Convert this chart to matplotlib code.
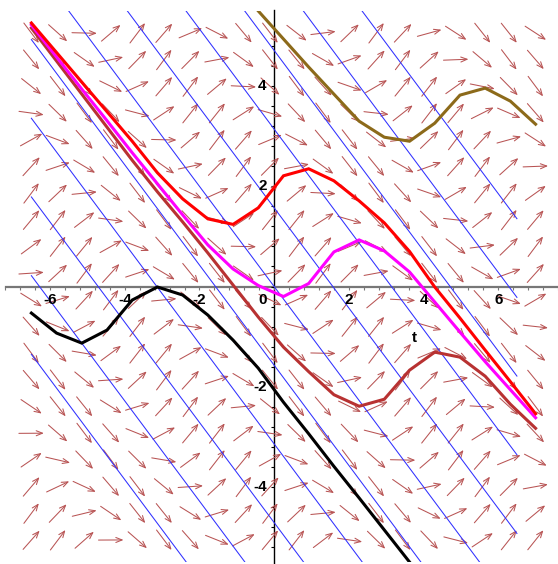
import numpy as np
import matplotlib
matplotlib.use("Agg")
import matplotlib.pyplot as plt
from matplotlib.patches import FancyArrowPatch, Rectangle

# direction field of  dy/dt = sin(t + y)  with solution curves (Maple DEplot look)

# time steps of the (coarse) numerical solutions
t_steps = [-6.5, -5.825, -5.15, -4.475, -3.8, -3.125, -2.45, -1.775, -1.1, -0.425,
           0.25, 0.925, 1.6, 2.275, 2.95, 3.625, 4.3, 4.975, 5.65, 6.325, 7.0]

# solution values
y_red = [5.26, 4.67, 4.08, 3.49, 2.90, 2.27, 1.75, 1.35, 1.24, 1.57, 2.21,
         2.35, 2.11, 1.71, 1.27, 0.70, -0.01, -0.63, -1.27, -1.90, -2.54]
y_magenta = [5.22, 4.58, 3.94, 3.31, 2.67, 2.05, 1.43, 0.83, 0.35, 0.02, -0.20,
             0.06, 0.69, 0.93, 0.71, 0.29, -0.31, -0.91, -1.50, -2.06, -2.62]
y_darkred = [5.16, 4.50, 3.84, 3.18, 2.52, 1.89, 1.29, 0.67, 0.03, -0.61, -1.21,
             -1.70, -2.16, -2.39, -2.25, -1.67, -1.31, -1.41, -1.79, -2.35, -2.83]
y_black = [-0.53, -0.93, -1.13, -0.87, -0.27, -0.01, -0.17, -0.57, -1.07, -1.63,
           -2.31, -2.94, -3.59, -4.22, -4.86, -5.50, -6.14]
y_brown = [6.12, 5.50, 4.94, 4.38, 3.84, 3.30, 2.98, 2.90, 3.26, 3.82, 3.96, 3.70, 3.24]

# isoclines t + y = k*pi/2
iso_k = [-5, -4, -3, -2, -1, 0, 1, 2, 3, 4, 5]
iso_t = [-6.5, 6.5]

# arrow grid
grid_t = np.linspace(-6.5, 7.0, 20)
grid_y = np.linspace(-5.06, 5.06, 20)


def f(t, y):
    return np.sin(t + y)


W, H = 558, 564
fig = plt.figure(figsize=(W / 100, H / 100), dpi=100)
ax = fig.add_axes([0, 0, 1, 1])
ax.set_xlim(-7.34, 7.586)
ax.set_ylim(-5.539, 5.719)

sx = W / (7.586 + 7.34)
sy = H / (5.719 + 5.539)

# clip box = the plot view
view = Rectangle((-7.3, -5.5), 15, 11, transform=ax.transData, visible=False)
ax.add_patch(view)

# arrows
L = 25.0
for t in grid_t:
    for y in grid_y:
        dxp, dyp = sx, sy * f(t, y)
        n = np.hypot(dxp, dyp)
        dx = L * dxp / n / sx
        dy = L * dyp / n / sy
        a = FancyArrowPatch((t - dx / 2, y - dy / 2), (t + dx / 2, y + dy / 2),
                            arrowstyle='->,head_length=0.45,head_width=0.18',
                            mutation_scale=10, color='#b85454', lw=0.75,
                            shrinkA=0, shrinkB=0, zorder=2)
        ax.add_patch(a)

# isoclines
for k in iso_k:
    c = k * np.pi / 2
    ln, = ax.plot(iso_t, [c - iso_t[0], c - iso_t[1]], color='#3030ff', lw=0.75, zorder=3)
    ln.set_clip_path(view)

# solutions
curves = [
    (t_steps[:len(y_black)], y_black, 'black'),
    (t_steps, y_darkred, '#b83232'),
    (t_steps, y_magenta, '#ff00ff'),
    (t_steps, y_red, '#ff0000'),
    (t_steps[-len(y_brown):], y_brown, '#8c6a1a'),
]
for tt, yy, col in curves:
    ln, = ax.plot(tt, yy, color=col, lw=2.2, zorder=4, solid_joinstyle='miter')
    ln.set_clip_path(view)

# axes through the origin
for s in ['top', 'right']:
    ax.spines[s].set_visible(False)
ax.spines['bottom'].set_position(('data', 0))
ax.spines['left'].set_position(('data', 0))
ax.spines['bottom'].set_bounds(-7.18, 7.6)
ax.spines['left'].set_bounds(-5.55, 5.52)
ax.spines['bottom'].set_color('#777777')
ax.spines['bottom'].set_linewidth(1.6)
ax.spines['left'].set_color('black')
ax.spines['left'].set_linewidth(1.0)
ax.spines['bottom'].set_zorder(1)
ax.spines['left'].set_zorder(1)

ax.set_xticks(np.arange(-7.2, 7.61, 0.4))
ax.set_yticks(np.arange(-5.2, 5.3, 0.4))
ax.tick_params(axis='x', direction='out', length=2.5, width=0.8, color='#777777', labelbottom=False)
ax.tick_params(axis='y', direction='out', length=2.5, width=0.8, color='black', labelleft=False)

fnt = dict(fontsize=11, fontweight='bold', family=['Liberation Sans', 'DejaVu Sans'])
for v in [-6, -4, -2, 2, 4, 6]:
    ax.text(v, -0.12, str(v), ha='center', va='top', **fnt)
for v in [-4, -2, 2, 4]:
    ax.text(-0.2, v, str(v), ha='right', va='center', **fnt)
ax.text(-0.2, -0.12, '0', ha='right', va='top', **fnt)
ax.text(3.76, -1.03, 't', ha='center', va='center', **fnt)

fig.savefig('out.png', dpi=100)
